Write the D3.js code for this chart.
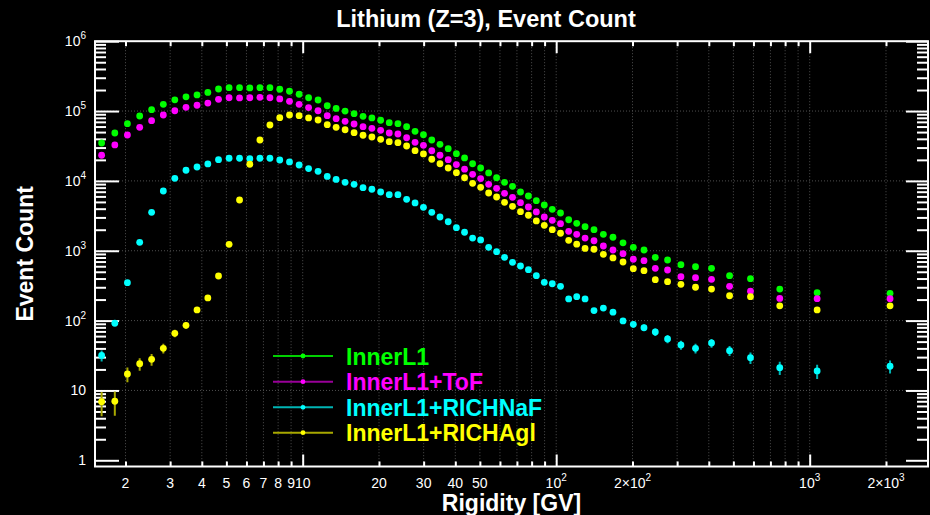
<!DOCTYPE html>
<html>
<head>
<meta charset="utf-8">
<script src="https://cdn.jsdelivr.net/npm/d3@7"></script>
<style>
  body { margin: 0; background: #000; }
  svg { display: block; font-family: "Liberation Sans", Arial, sans-serif; }
</style>
</head>
<body>
<div class="main"></div>
<script>
// bin centres [GV]
const rigidity = [1.61, 1.815, 2.035, 2.275, 2.535, 2.82, 3.13, 3.465, 3.83, 4.225, 4.655, 5.125, 5.635, 6.185, 6.78, 7.425, 8.12, 8.87, 9.68, 10.55,
    11.5, 12.5, 13.55, 14.7, 15.95, 17.3, 18.75, 20.3, 21.95, 23.75, 25.7, 27.75, 29.95, 32.3, 34.8, 37.5, 40.4, 43.5, 46.8, 50.35,
    54.15, 58.2, 62.55, 67.25, 72.3, 77.7, 83.5, 89.75, 96.5, 104, 112, 120.5, 130, 141, 153.5, 167.5, 183.5, 201.5, 222, 246,
    275, 310.5, 354.5, 410, 483, 584, 762, 1070, 2075]

const innerL1 = [34900, 48500, 65900, 84900, 104500, 125000, 145000, 160000, 170000, 185000,
    207000, 216000, 216000, 214000, 216000, 216000, 205000, 192000, 174000, 155000,
    144000, 119000, 109000, 100000, 91700, 84100, 79600, 73800, 68100, 65900,
    59700, 51300, 45800, 38500, 33400, 28900, 24500, 21300, 17600, 15300,
    13000, 11100, 9550, 8370, 6940, 6080, 5210, 4520, 3920, 3470,
    2780, 2470, 2210, 2000, 1720, 1560, 1300, 1120, 1025, 806,
    737, 632, 591, 561, 439, 398, 283, 251, 246]

const innerL1ToF = [23300, 32700, 45400, 58500, 72700, 87800, 101000, 113000, 121000, 130000,
    147000, 155000, 154000, 155000, 157000, 155000, 149000, 138000, 125000, 112000,
    101000, 85800, 77800, 71300, 65300, 59700, 56600, 53000, 48500, 46900,
    41500, 35700, 32300, 27000, 23300, 20100, 17100, 14700, 12400, 10800,
    8940, 7830, 6640, 5820, 4880, 4230, 3590, 3040, 2730, 2440,
    1900, 1720, 1520, 1390, 1170, 1025, 908, 755, 721, 561,
    530, 425, 411, 390, 310, 263, 208, 206, 206]

const innerL1NaF = [31.7, 92, 349, 1320, 3550, 7170, 10900, 14200, 15800, 17500,
    20100, 21100, 21100, 20800, 21100, 21100, 19900, 18700, 16900, 15000,
    13700, 11600, 10500, 9550, 8940, 8000, 7590, 6940, 6350, 6350,
    5450, 4830, 4190, 3550, 3040, 2600, 2140, 1840, 1520, 1430,
    1120, 969, 806, 683, 605, 536, 440, 353, 337, 310,
    204, 220, 204, 139, 151, 132, 99, 88.5, 79.1, 68.7,
    54.6, 44.8, 40.1, 47.8, 37.1, 29.4, 21.2, 19.0, 22.2]

const innerL1Agl = [6.9, 7.0, 17.2, 24.1, 27.9, 40.1, 65.8, 85.6, 142, 211,
    435, 1235, 5330, 17300, 38500, 63100, 80400, 87800, 85800, 79600,
    74500, 63800, 58500, 54000, 49000, 45000, 42500, 39400, 36400, 35200,
    31600, 27100, 24300, 20400, 17600, 15300, 13100, 11100, 9240, 8100,
    6710, 5880, 4940, 4330, 3630, 3220, 2670, 2310, 2000, 1780,
    1410, 1240, 1080, 1050, 889, 788, 690, 553, 518, 385,
    361, 331, 300, 283, 227, 220, 163, 142, 163]

const seriesNames = ["InnerL1", "InnerL1+ToF", "InnerL1+RICHNaF", "InnerL1+RICHAgl"]
const seriesValues = [innerL1, innerL1ToF, innerL1NaF, innerL1Agl]
const markerColors = ["#00ff00", "#ff00ff", "#00ffff", "#ffff00"]
const lineColors = ["#00d000", "#990099", "#00b4b4", "#a8a800"]

const xMajorTicks = [10, 100, 1000]
const xMinorTicks = [2, 3, 4, 5, 6, 7, 8, 9, 20, 30, 40, 50, 60, 70, 80, 90, 200, 300, 400, 500, 600, 700, 800, 900, 2000]
const xLabelValues = [2, 3, 4, 5, 6, 7, 8, 9, 10, 20, 30, 40, 50, 100, 200, 1000, 2000]
const xLabelTexts = ["2", "3", "4", "5", "6", "7", "8", "9", "10", "20", "30", "40", "50", "10^2", "2\u00d710^2", "10^3", "2\u00d710^3"]
const yMajorTicks = [1, 10, 100, 1e3, 1e4, 1e5, 1e6]
const yLabelTexts = ["1", "10", "10^2", "10^3", "10^4", "10^5", "10^6"]

const W = 930, H = 515
const pLeft = 95, pRight = 928, pTop = 41.2, pBottom = 466.5

const svg = d3.select(".main").append("svg")
    .attr("width", W).attr("height", H)
    .style("background", "#000")

const x = d3.scaleLog().domain([1.516, 2929]).range([pLeft, pRight])
const y = d3.scaleLog().domain([0.815, 1e6]).range([pBottom, pTop])

const yMinorTicks = []
for (let d = 1; d < 1e6; d *= 10) for (let k = 2; k <= 9; k++) yMinorTicks.push(d * k)

svg.append("defs").append("clipPath").attr("id", "plot")
    .append("rect").attr("x", pLeft).attr("y", pTop).attr("width", pRight - pLeft).attr("height", pBottom - pTop)

// grid
const grid = svg.append("g").attr("stroke", "#4e4e4e").attr("stroke-width", 1).attr("stroke-dasharray", "1,2")
grid.selectAll("line.vx")
    .data(xMajorTicks.concat(xMinorTicks))
    .join("line")
    .attr("class", "vx")
    .attr("x1", d => x(d)).attr("x2", d => x(d))
    .attr("y1", pTop).attr("y2", pBottom)
grid.selectAll("line.hy")
    .data(yMajorTicks.slice(1, -1))
    .join("line")
    .attr("class", "hy")
    .attr("x1", pLeft).attr("x2", pRight)
    .attr("y1", d => y(d)).attr("y2", d => y(d))

// ticks through d3 axes, pointing inwards
function tickAxis(axis, transform) {
    svg.append("g")
        .attr("transform", transform)
        .call(axis.tickSizeOuter(0).tickFormat(""))
        .call(g => g.select(".domain").remove())
        .call(g => g.selectAll("line").attr("stroke", "#fff").attr("stroke-width", 2))
}
tickAxis(d3.axisBottom(x).tickValues(xMinorTicks).tickSizeInner(-5), `translate(0,${pBottom})`)
tickAxis(d3.axisBottom(x).tickValues(xMajorTicks).tickSizeInner(-12), `translate(0,${pBottom})`)
tickAxis(d3.axisTop(x).tickValues(xMinorTicks).tickSizeInner(-5), `translate(0,${pTop})`)
tickAxis(d3.axisTop(x).tickValues(xMajorTicks).tickSizeInner(-12), `translate(0,${pTop})`)
tickAxis(d3.axisLeft(y).tickValues(yMinorTicks).tickSizeInner(-11), `translate(${pLeft},0)`)
tickAxis(d3.axisLeft(y).tickValues(yMajorTicks).tickSizeInner(-24), `translate(${pLeft},0)`)
tickAxis(d3.axisRight(y).tickValues(yMinorTicks).tickSizeInner(-11), `translate(${pRight},0)`)
tickAxis(d3.axisRight(y).tickValues(yMajorTicks).tickSizeInner(-22), `translate(${pRight},0)`)

// frame
svg.append("rect")
    .attr("x", pLeft).attr("y", pTop).attr("width", pRight - pLeft).attr("height", pBottom - pTop)
    .attr("fill", "none").attr("stroke", "#fff").attr("stroke-width", 2)

function powerLabel(sel, txt) {
    const [base, exp] = txt.split("^")
    sel.append("tspan").text(base)
    if (exp !== undefined) sel.append("tspan").attr("dy", -7).attr("font-size", 10).text(exp)
}

// x labels
svg.append("g").selectAll("text")
    .data(xLabelValues)
    .join("text")
    .attr("x", d => x(d)).attr("y", 488)
    .attr("text-anchor", "middle")
    .attr("fill", "#fff").attr("font-size", 14)
    .each(function (d, i) { powerLabel(d3.select(this), xLabelTexts[i]) })

// y labels
svg.append("g").selectAll("text")
    .data(yMajorTicks)
    .join("text")
    .attr("x", 86).attr("y", d => y(d) + 5)
    .attr("text-anchor", "end")
    .attr("fill", "#fff").attr("font-size", 14)
    .each(function (d, i) { powerLabel(d3.select(this), yLabelTexts[i]) })

// titles
svg.append("text")
    .attr("x", 486).attr("y", 27)
    .attr("text-anchor", "middle").attr("fill", "#fff")
    .attr("font-size", 23.5).attr("font-weight", "bold")
    .text("Lithium (Z=3), Event Count")
svg.append("text")
    .attr("x", (pLeft + pRight) / 2).attr("y", 511)
    .attr("text-anchor", "middle").attr("fill", "#fff")
    .attr("font-size", 23).attr("font-weight", "bold")
    .text("Rigidity [GV]")
svg.append("text")
    .attr("transform", `translate(33,${(pTop + pBottom) / 2}) rotate(-90)`)
    .attr("text-anchor", "middle").attr("fill", "#fff")
    .attr("font-size", 23).attr("font-weight", "bold")
    .text("Event Count")

// data
const plot = svg.append("g").attr("clip-path", "url(#plot)")
seriesValues.forEach((vals, s) => {
    const pts = vals.map((v, i) => ({ r: rigidity[i], n: v }))
    const g = plot.append("g")
    g.selectAll("line")
        .data(pts)
        .join("line")
        .attr("x1", d => x(d.r)).attr("x2", d => x(d.r))
        .attr("y1", d => y(Math.max(d.n - Math.sqrt(d.n), 0.5)))
        .attr("y2", d => y(d.n + Math.sqrt(d.n)))
        .attr("stroke", lineColors[s]).attr("stroke-width", 2)
    g.selectAll("circle")
        .data(pts)
        .join("circle")
        .attr("cx", d => x(d.r)).attr("cy", d => y(d.n))
        .attr("r", 3.4)
        .attr("fill", markerColors[s])
})

// legend
const legendY = [356, 381.7, 407.3, 432.7]
const legend = svg.append("g")
seriesNames.forEach((name, s) => {
    const row = legend.append("g").attr("transform", `translate(0,${legendY[s]})`)
    row.append("line").attr("x1", 273).attr("x2", 333)
        .attr("stroke", lineColors[s]).attr("stroke-width", 2)
    row.append("circle").attr("cx", 303).attr("r", 2.4).attr("fill", markerColors[s])
    row.append("text").attr("x", 346).attr("y", 8.5)
        .attr("fill", markerColors[s]).attr("font-size", 23).attr("font-weight", "bold")
        .text(name)
})
</script>
</body>
</html>
